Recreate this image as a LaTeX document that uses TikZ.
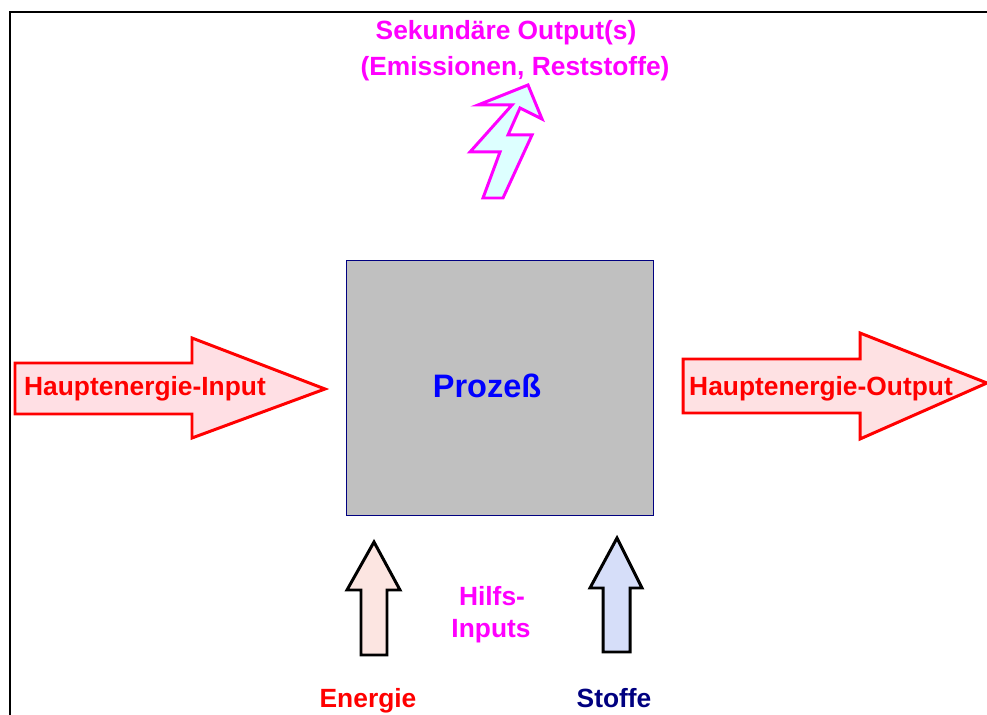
\documentclass[tikz,border=0pt]{standalone}
\usepackage{fontspec}
\setmainfont{Liberation Sans}
\usepackage{tikz}
\usetikzlibrary{positioning}

\definecolor{pinkfill}{HTML}{FFDFE4}
\definecolor{rosefill}{HTML}{FCE5E1}
\definecolor{bluefill}{HTML}{D6DEF9}
\definecolor{cyanfill}{HTML}{DDFFFF}
\definecolor{boxgray}{HTML}{C0C0C0}
\definecolor{lila}{HTML}{FF00FF}
\definecolor{navy}{HTML}{000080}

\begin{document}
\begin{tikzpicture}[x=0.02cm, y=-0.02cm,
    lbl/.style={font=\fontsize{15}{18}\selectfont\bfseries, inner sep=0pt, anchor=base},
    mainarrow/.style={draw=red, fill=pinkfill, line width=1.7pt, line join=miter},
    auxarrow/.style={draw=black, line width=1.7pt, line join=miter}]
    \useasboundingbox (0,0) rectangle (987,715);
    \draw[line width=1.4pt] (10,715) -- (10,12) -- (987,12);

    % Prozess
    \node[draw=navy, fill=boxgray, line width=0.5pt, minimum width=307*0.02cm,
          minimum height=255*0.02cm, inner sep=0pt] (proc) at (499.5,387.5) {};
    \node[lbl, font=\fontsize{18.5}{22}\selectfont\bfseries, text=blue] (prozess) at (487,398) {Prozeß};

    % Hauptenergie
    \draw[mainarrow] (15,363) -- (192,363) -- (192,338) -- (325,389) -- (192,438) -- (192,414) -- (15,414) -- cycle;
    \node[lbl, text=red] (hinput) at (145,396) {Hauptenergie-Input};
    \draw[mainarrow, fill=pinkfill!70!rosefill] (683,359) -- (860,359) -- (860,333) -- (987,383) -- (860,439) -- (860,413) -- (683,413) -- cycle;
    \node[lbl, text=red] (houtput) at (821,396) {Hauptenergie-Output};

    % Sekundaere Outputs
    \draw[draw=lila, fill=cyanfill, line width=1.7pt, line join=miter]
        (528,85) -- (542,119) -- (520,108) -- (508,135) -- (532,135) -- (503,198) -- (483,198)
        -- (500,152) -- (470,152) -- (512,105) -- (478,105) -- cycle;
    \node[lbl, text=lila] (sek) at (506,40) {Sekundäre Output(s)};
    \node[lbl, text=lila] (emis) at (515,76) {(Emissionen, Reststoffe)};

    % Hilfs-Inputs
    \draw[auxarrow, fill=rosefill] (374,542) -- (400,590) -- (387,590) -- (387,655) -- (361,655) -- (361,590) -- (347,590) -- cycle;
    \draw[auxarrow, fill=bluefill] (617,538) -- (642,588) -- (630,588) -- (630,652) -- (603,652) -- (603,588) -- (590,588) -- cycle;
    \node[lbl, text=lila] (hilfs) at (492,606) {Hilfs-};
    \node[lbl, text=lila] (inputs) at (491,638) {Inputs};
    \node[lbl, text=red] (energie) at (368,707) {Energie};
    \node[lbl, text=navy] (stoffe) at (614,707) {Stoffe};
\end{tikzpicture}
\end{document}
